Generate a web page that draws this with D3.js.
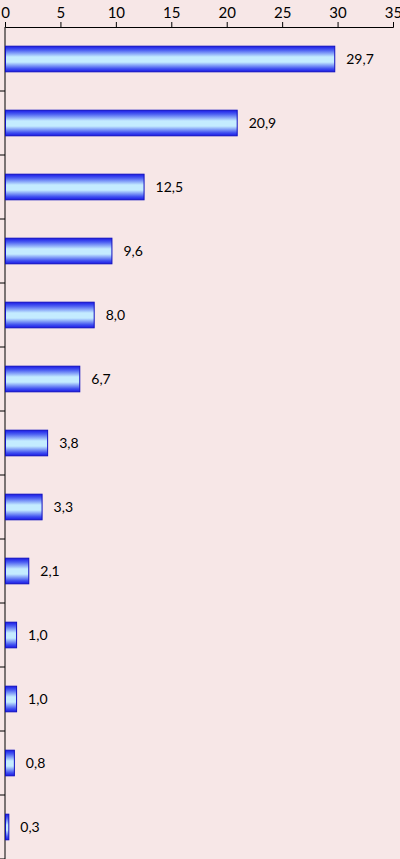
<!DOCTYPE html>
<html><head><meta charset="utf-8">
<script src="https://cdn.jsdelivr.net/npm/d3@7"></script>
<style>body{margin:0;background:#f7e7e7;}svg{display:block;}</style>
</head><body>
<script>
const categories = ["c1","c2","c3","c4","c5","c6","c7","c8","c9","c10","c11","c12","c13"];
const values = [29.7, 20.9, 12.5, 9.6, 8.0, 6.7, 3.8, 3.3, 2.1, 1.0, 1.0, 0.8, 0.3];
const tickValues = [0, 5, 10, 15, 20, 25, 30, 35];

const W = 400, H = 859;
const svg = d3.select("body").append("svg").attr("width", W).attr("height", H);
svg.append("rect").attr("width", W).attr("height", H).attr("fill", "#f7e7e7");

const defs = svg.append("defs");
const g = defs.append("linearGradient").attr("id","barGrad").attr("x1",0).attr("y1",0).attr("x2",0).attr("y2",1);
[[0,"#1a1ae6"],[0.15,"#4a5cf2"],[0.42,"#c4ecff"],[0.62,"#c4ecff"],[0.88,"#4050f0"],[1,"#1a1ae6"]].forEach(([o,c])=>g.append("stop").attr("offset",o).attr("stop-color",c));

const x = d3.scaleLinear().domain([0,35]).range([5,393]);
const y = d3.scaleBand().domain(categories).range([27,859]).paddingInner(0.6).paddingOuter(0.3);

const fmt = v => d3.format(".1f")(v).replace(".", ",");
const FONT = "Lato, 'Open Sans', 'Liberation Sans', sans-serif";

// top axis
const xa = svg.append("g").attr("transform","translate(0,27)")
  .call(d3.axisTop(x).tickValues(tickValues).tickSize(5).tickPadding(4).tickFormat(d=>d));
xa.select(".domain").attr("stroke","#000");
xa.selectAll("text").attr("font-family",FONT).attr("font-size",15).attr("fill","#000");

// left axis line + band ticks
const bandStep = y.step();
const bounds = d3.range(categories.length + 1).map(i => 27 + i*bandStep);
svg.append("line").attr("x1",5).attr("x2",5).attr("y1",27).attr("y2",H).attr("stroke","#000");
svg.selectAll(".lt").data(bounds.slice(1)).join("line")
  .attr("x1",0).attr("x2",5).attr("y1",d=>d).attr("y2",d=>d).attr("stroke","#000");

// bars
svg.selectAll(".bar").data(values).join("rect")
  .attr("x", x(0)+0.5)
  .attr("y", (d,i)=>y(categories[i]))
  .attr("width", d=>x(d)-x(0))
  .attr("height", y.bandwidth())
  .attr("fill","url(#barGrad)")
  .attr("stroke","#1010c0").attr("stroke-width",1);

// labels
svg.selectAll(".lbl").data(values).join("text")
  .attr("x", d=>x(d)+12)
  .attr("y", (d,i)=>y(categories[i]) + y.bandwidth()/2)
  .attr("dy","0.35em")
  .attr("font-family",FONT)
  .attr("font-size",14).attr("fill","#000")
  .text(d=>fmt(d));
</script>
</body></html>
